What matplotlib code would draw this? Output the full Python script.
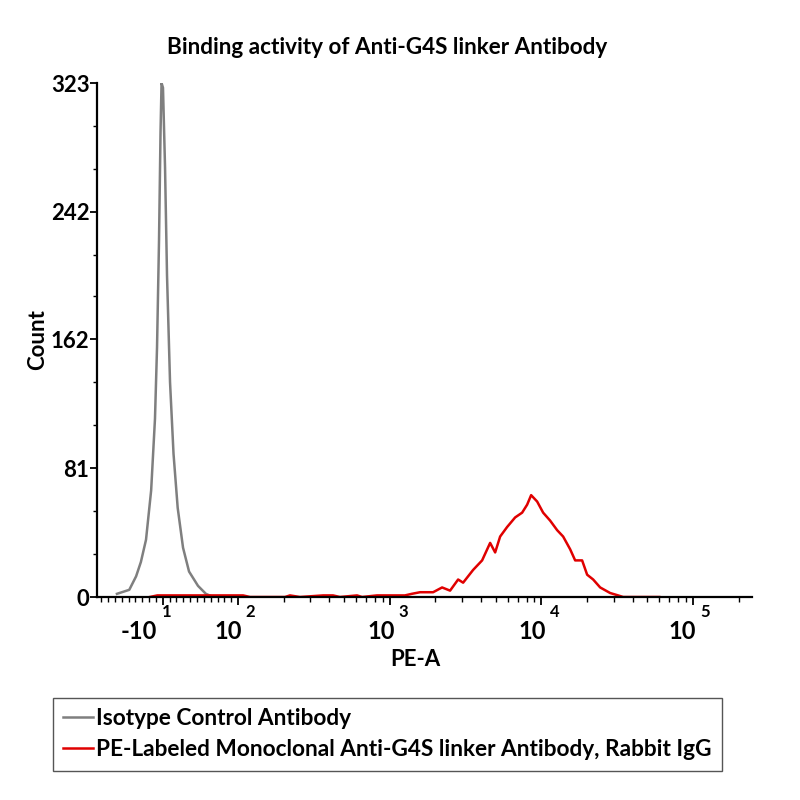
import matplotlib
matplotlib.use("Agg")
import matplotlib.pyplot as plt
from matplotlib.lines import Line2D
import numpy as np

plt.rcParams['font.family'] = ['Lato', 'DejaVu Sans']
plt.rcParams['font.weight'] = 'bold'

# ---------------- data ----------------
title = "Binding activity of Anti-G4S linker Antibody"
xlabel = "PE-A"
ylabel = "Count"
series_names = ["Isotype Control Antibody",
                "PE-Labeled Monoclonal Anti-G4S linker Antibody, Rabbit IgG"]

iso_x = [-77, -59, -49, -42, -34.5, -27, -21.4, -18.4, -15.5, -13.3, -11.8,
         -9.7, -6.7, -3.8, 0.6, 5.7, 11.8, 19.6, 28.4, 41.5, 53, 63.5]
iso_y = [2, 4.5, 13, 22, 36, 67, 112, 157, 224, 292, 323,
         320, 270, 202, 135, 90, 56, 31, 16, 7, 2, 0]

pe_x = [-29, -18, 45, 108, 120, 204, 220, 256, 364, 423, 470, 609, 658, 824,
        1084, 1171, 1260, 1400, 1586, 1934, 2216, 2502, 2827, 3050, 3549, 4069,
        4596, 4960, 5350, 5950, 6719, 7471, 8060, 8565, 9383, 10278, 11430,
        12712, 13924, 15488, 16711, 18578, 20050, 21965, 24431, 28432, 32110,
        34640, 60000]
pe_y = [0, 1, 1, 1, 0, 0, 1, 0, 1, 1, 0, 1, 0, 1,
        1, 1, 1, 2, 3, 3, 6, 4, 11, 9, 17, 23,
        34, 28, 38, 44, 50, 53, 58, 64, 60, 53, 48,
        42, 38, 30, 23, 23, 14, 11, 6, 2.5, 1,
        0, 0]

x_major = [-10, 100, 1000, 10000, 100000]
x_base_labels = ["-10", "10", "10", "10", "10"]
x_exp_labels = ["1", "2", "3", "4", "5"]
x_minor = [v for v in range(-100, 101, 10) if v not in (-10, 100)] + \
          [m * 10 ** e for e in (2, 3, 4) for m in range(2, 10)] + [200000]
y_ticks = [0, 81, 162, 242, 323]

# ---------------- figure ----------------
fig = plt.figure(figsize=(8, 8), dpi=100)
ax = fig.add_axes([97 / 800, 1 - 597 / 800, (752 - 97) / 800, (597 - 83) / 800])

ax.plot(iso_x, iso_y, color='#7f7f7f', lw=1.8, zorder=2)
ax.plot(pe_x, pe_y, color='#e00000', lw=1.8, zorder=2)

ax.set_xscale('symlog', linthresh=100, linscale=0.406)
ax.set_xlim(-106.6, 245000)
ax.set_ylim(0, 323)

for s in ('top', 'right'):
    ax.spines[s].set_visible(False)
for s in ('left', 'bottom'):
    ax.spines[s].set_linewidth(1.6)
    ax.spines[s].set_zorder(3)

ax.set_xticks(x_major)
ax.set_xticks(x_minor, minor=True)
ax.set_xticklabels([])
ax.tick_params(axis='x', which='major', length=6, width=1.3, direction='out')
ax.tick_params(axis='x', which='minor', length=3.5, width=1.0, direction='out')

ax.set_yticks(y_ticks)
ax.set_yticks([27, 54, 108, 135, 189, 215, 269, 296], minor=True)
ax.set_yticklabels([str(v) for v in y_ticks], fontsize=16, fontweight='bold')
ax.tick_params(axis='y', which='major', length=5, width=1.3, pad=0.5)
ax.tick_params(axis='y', which='minor', length=3, width=1.0)

base_dx = [-4, 3, 4, 3, 2]
exp_dx = [-1, 5.5, 6, 6, 5]
for xv, b, e, bd, ed in zip(x_major, x_base_labels, x_exp_labels, base_dx, exp_dx):
    ax.annotate(b, xy=(xv, 0), xycoords=('data', 'axes fraction'),
                xytext=(bd, -25), textcoords='offset points',
                ha='right', va='center', fontsize=17, fontweight='bold')
    ax.annotate(e, xy=(xv, 0), xycoords=('data', 'axes fraction'),
                xytext=(ed, -11), textcoords='offset points',
                ha='left', va='center', fontsize=12, fontweight='bold')

fig.text(387 / 800, 1 - 47 / 800, title, ha='center', va='center',
         fontsize=16.2, fontweight='bold')
fig.text(415 / 800, 1 - 660 / 800, xlabel, ha='center', va='center',
         fontsize=16, fontweight='bold')
fig.text(38 / 800, 1 - 340 / 800, ylabel, ha='center', va='center',
         rotation=90, fontsize=16, fontweight='bold')

handles = [Line2D([], [], color='#7f7f7f', lw=1.8),
           Line2D([], [], color='#e00000', lw=1.8)]
leg = fig.legend(handles, series_names, loc='upper left',
                 bbox_to_anchor=(53 / 800, 1 - 698 / 800),
                 bbox_transform=fig.transFigure,
                 fancybox=False, frameon=True, framealpha=1,
                 edgecolor='#555555', handlelength=1.3, handletextpad=0.15,
                 borderpad=0.45, borderaxespad=0, labelspacing=0.45,
                 prop={'size': 16.3, 'weight': 'bold'})
leg.get_frame().set_linewidth(1.0)

fig.savefig('out.png', dpi=100)
